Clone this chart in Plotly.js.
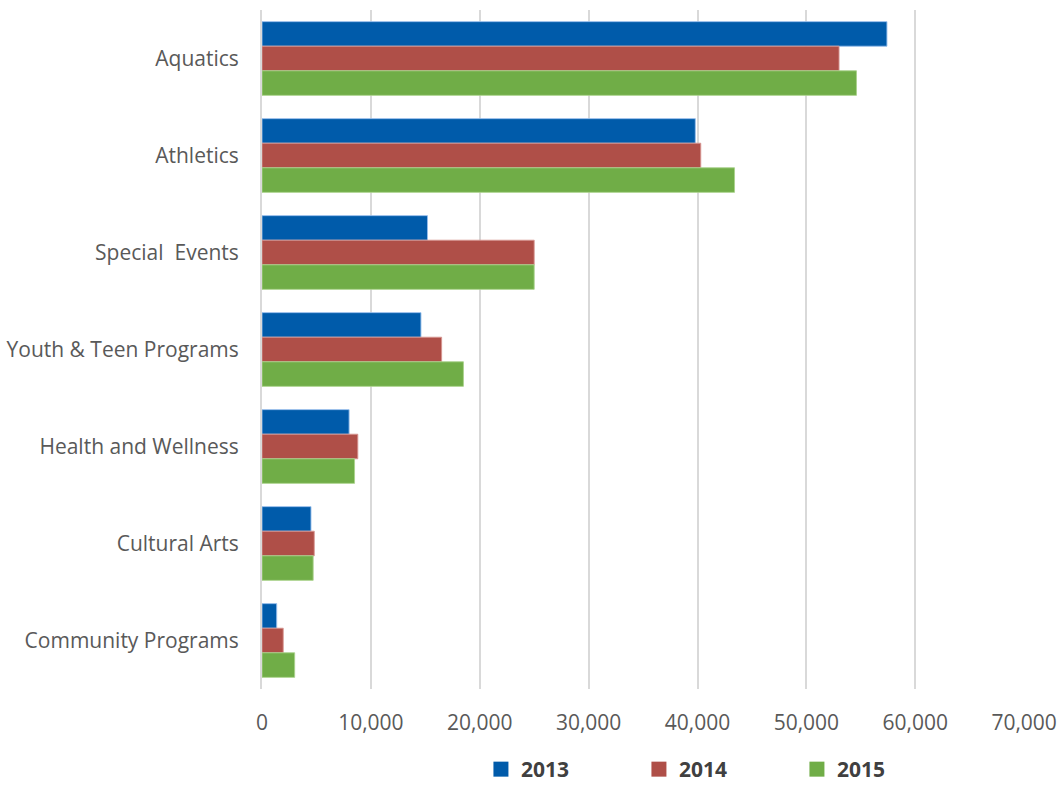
<!DOCTYPE html>
<html>
<head>
<meta charset="utf-8">
<script src="https://cdn.plot.ly/plotly-3.0.1.min.js"></script>
<style>html,body{margin:0;padding:0;background:#fff;}#chart{width:1057px;height:790px;}</style>
</head>
<body>
<div id="chart"></div>
<script>
var categories = ["Aquatics", "Athletics", "Special\u00a0 Events", "Youth & Teen Programs", "Health and Wellness", "Cultural Arts", "Community Programs"];
var values2013 = [57400, 39800, 15200, 14600, 8000, 4500, 1350];
var values2014 = [53000, 40300, 25000, 16500, 8800, 4800, 1950];
var values2015 = [54600, 43400, 25000, 18500, 8500, 4700, 3000];
var seriesNames = ["2013", "2014", "2015"];
var tickVals = [0, 10000, 20000, 30000, 40000, 50000, 60000, 70000];
var tickText = ["0", "10,000", "20,000", "30,000", "40,000", "50,000", "60,000", "70,000"];

var colors = ["#005BAA", "#AF4F48", "#70AD47"];
var edge = ["rgba(150,190,235,0.9)", "rgba(215,150,145,0.9)", "rgba(170,210,140,0.9)"];
var font = "'Open Sans', sans-serif";
var seriesVals = [values2013, values2014, values2015];
var traces = seriesVals.map(function (v, i) {
  return {
    type: "bar",
    orientation: "h",
    name: seriesNames[i],
    y: categories,
    x: v,
    showlegend: false,
    marker: {color: colors[i], line: {color: edge[i], width: 1}}
  };
});
// legend-only entries with larger square swatches
seriesNames.forEach(function (n, i) {
  traces.push({
    type: "scatter",
    mode: "markers",
    name: n,
    x: [null],
    y: [null],
    showlegend: true,
    marker: {symbol: "square", size: 15, color: colors[i]}
  });
});

var layout = {
  width: 1057,
  height: 790,
  margin: {l: 262, r: 32, t: 10, b: 101, autoexpand: false},
  paper_bgcolor: "#fff",
  plot_bgcolor: "#fff",
  barmode: "group",
  bargap: 0.24,
  bargroupgap: 0,
  showlegend: true,
  legend: {
    orientation: "h",
    xref: "container", yref: "container",
    x: 0.455, xanchor: "left",
    y: 0.0, yanchor: "bottom",
    traceorder: "normal",
    entrywidth: 113,
    itemwidth: 30,
    font: {family: font, size: 21, color: "#404040", weight: "bold"}
  },
  xaxis: {
    range: [0, 70080],
    tickvals: tickVals,
    ticktext: tickText,
    showgrid: true,
    gridcolor: "#D9D9D9",
    gridwidth: 2,
    zeroline: false,
    showline: false,
    ticks: "outside",
    ticklen: 15,
    tickcolor: "rgba(0,0,0,0)",
    tickfont: {family: font, size: 21, color: "#595959"},
    automargin: false,
    fixedrange: true
  },
  yaxis: {
    autorange: "reversed",
    showgrid: false,
    zeroline: false,
    showline: true,
    linecolor: "#D9D9D9",
    linewidth: 2,
    ticks: "outside",
    ticklen: 17,
    tickcolor: "rgba(0,0,0,0)",
    tickfont: {family: font, size: 21, color: "#595959"},
    automargin: false,
    fixedrange: true
  }
};

Plotly.newPlot("chart", traces, layout, {displayModeBar: false, staticPlot: true});
</script>
</body>
</html>
